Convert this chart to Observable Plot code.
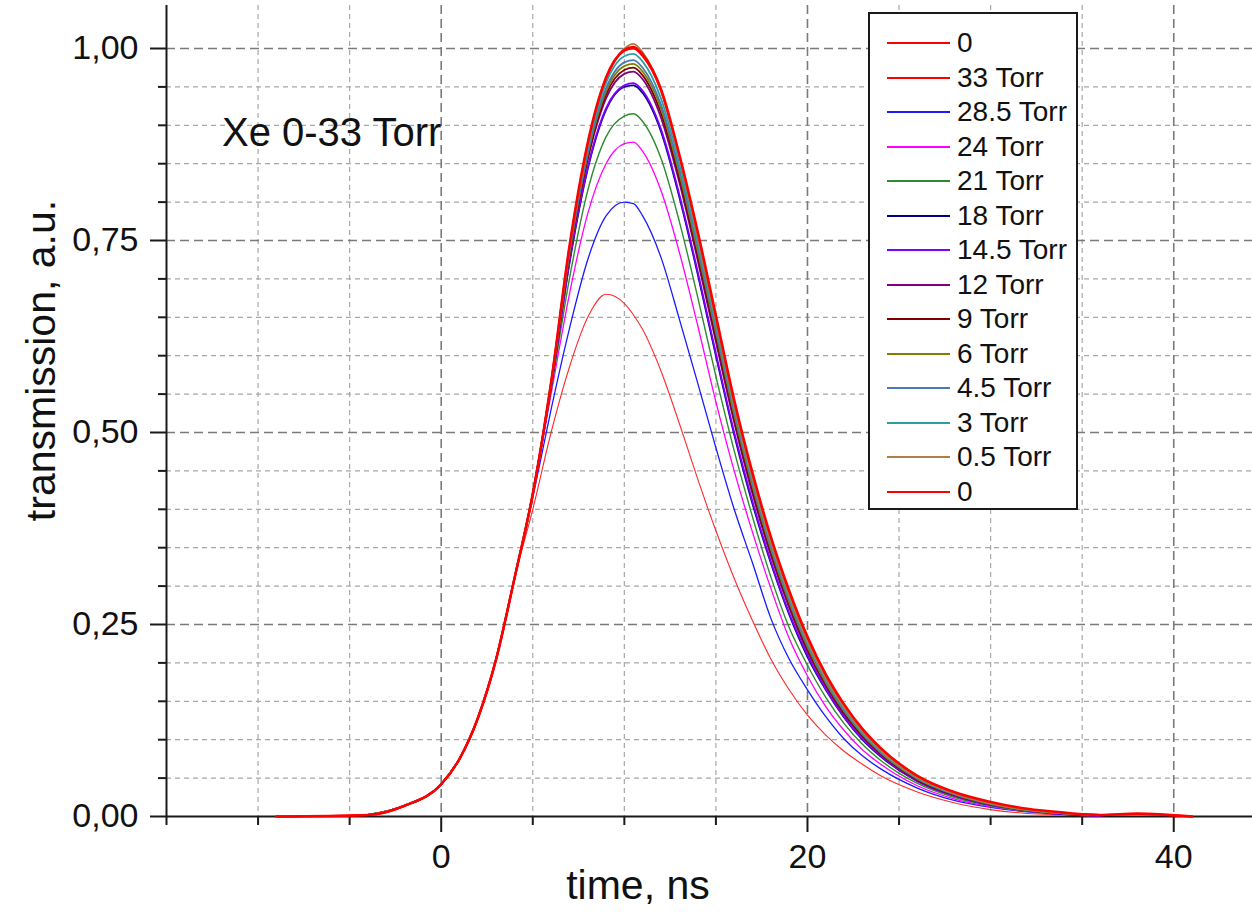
<!DOCTYPE html>
<html>
<head>
<meta charset="utf-8">
<script src="https://cdn.jsdelivr.net/npm/d3@7"></script>
<script src="https://cdn.jsdelivr.net/npm/@observablehq/plot@0.6"></script>
<style>
  html, body { margin: 0; padding: 0; background: #fff; }
  #wrap { position: relative; width: 1252px; height: 912px; font-family: "Liberation Sans", Arial, sans-serif; color: #111; }
  #wrap svg { position: absolute; left: 0; top: 0; }
  .ov { position: absolute; white-space: nowrap; }
  #legend { position: absolute; left: 868px; top: 12px; width: 210px; height: 498px; box-sizing: border-box; border: 2px solid #1a1a1a; background: #fff; }
  .lrow { position: absolute; left: 0; height: 30px; width: 206px; }
  .lsw { position: absolute; left: 17px; top: 14px; width: 63px; height: 0; border-top: 2.5px solid red; }
  .ltx { position: absolute; left: 87px; top: 0; font-size: 28px; line-height: 30px; color: #111; }
</style>
</head>
<body>
<div id="wrap"></div>
<script>
// ---- data ----
const times = [-9,-4,-2,0,1,2,3,4,5,6,7,8,9,10,10.5,11,12,13,14,15,16,17,18,19,20,21,22,23,24,26,28,30,32,34,36,38,41];

const labels = ["0","33 Torr","28.5 Torr","24 Torr","21 Torr","18 Torr","14.5 Torr","12 Torr","9 Torr","6 Torr","4.5 Torr","3 Torr","0.5 Torr","0"];

const s0a   = [0,0.002,0.014,0.042,0.075,0.128,0.205,0.31,0.42,0.565,0.74,0.875,0.96,0.997,1.0,0.99,0.945,0.86,0.76,0.65,0.54,0.445,0.362,0.292,0.232,0.183,0.145,0.113,0.088,0.052,0.031,0.018,0.009,0.004,0.002,0.003,0];
const s33   = [null,0.002,0.014,0.042,0.075,0.128,0.205,0.31,0.40,0.50,0.585,0.65,0.68,0.668,0.653,0.634,0.58,0.512,0.44,0.372,0.31,0.255,0.205,0.165,0.132,0.106,0.085,0.068,0.053,0.032,0.018,0.009,0.004,0.002,0,null,null];
const s285  = [null,0.002,0.014,0.042,0.075,0.128,0.205,0.31,0.415,0.53,0.635,0.725,0.782,0.80,0.798,0.782,0.728,0.648,0.565,0.48,0.40,0.33,0.258,0.205,0.165,0.13,0.101,0.079,0.062,0.037,0.021,0.012,0.006,0.003,0.001,null,null];
const s24   = [null,0.002,0.014,0.042,0.075,0.128,0.205,0.31,0.42,0.55,0.68,0.785,0.85,0.876,0.878,0.866,0.815,0.735,0.64,0.54,0.45,0.37,0.297,0.232,0.183,0.143,0.112,0.087,0.068,0.04,0.023,0.013,0.007,0.003,0.001,null,null];
const s21   = [null,0.002,0.014,0.042,0.075,0.128,0.205,0.31,0.42,0.555,0.70,0.815,0.885,0.912,0.915,0.905,0.857,0.775,0.677,0.573,0.476,0.39,0.312,0.246,0.197,0.155,0.121,0.094,0.073,0.043,0.025,0.014,0.007,0.003,0.001,null,null];
const s18   = [null,0.002,0.014,0.042,0.075,0.128,0.205,0.31,0.42,0.56,0.72,0.843,0.92,0.95,0.952,0.942,0.892,0.807,0.707,0.60,0.497,0.407,0.33,0.263,0.208,0.165,0.129,0.10,0.078,0.046,0.027,0.015,0.008,0.003,0.001,null,null];
const s145  = [null,0.002,0.014,0.042,0.075,0.128,0.205,0.31,0.42,0.56,0.722,0.845,0.922,0.952,0.955,0.945,0.895,0.81,0.71,0.603,0.50,0.41,0.332,0.265,0.21,0.166,0.13,0.101,0.079,0.046,0.027,0.015,0.008,0.003,0.001,null,null];
const s12   = [null,0.002,0.014,0.042,0.075,0.128,0.205,0.31,0.42,0.562,0.728,0.855,0.935,0.967,0.97,0.96,0.91,0.826,0.725,0.618,0.513,0.42,0.34,0.272,0.215,0.17,0.133,0.104,0.081,0.047,0.028,0.016,0.008,0.004,0.002,null,null];
const s9    = [null,0.002,0.014,0.042,0.075,0.128,0.205,0.31,0.42,0.563,0.73,0.858,0.94,0.972,0.975,0.965,0.916,0.832,0.731,0.624,0.518,0.425,0.344,0.276,0.218,0.172,0.135,0.105,0.082,0.048,0.028,0.016,0.008,0.004,0.002,null,null];
const s6    = [null,0.002,0.014,0.042,0.075,0.128,0.205,0.31,0.42,0.563,0.733,0.862,0.944,0.977,0.98,0.97,0.922,0.838,0.737,0.63,0.523,0.43,0.348,0.279,0.221,0.174,0.137,0.107,0.083,0.049,0.029,0.016,0.008,0.004,0.002,null,null];
const s45   = [null,0.002,0.014,0.042,0.075,0.128,0.205,0.31,0.42,0.564,0.735,0.865,0.948,0.982,0.985,0.975,0.927,0.843,0.742,0.634,0.527,0.433,0.351,0.282,0.223,0.176,0.138,0.108,0.084,0.05,0.029,0.017,0.009,0.004,0.002,null,null];
const s3    = [null,0.002,0.014,0.042,0.075,0.128,0.205,0.31,0.42,0.565,0.738,0.87,0.955,0.99,0.993,0.983,0.935,0.85,0.748,0.64,0.532,0.437,0.355,0.285,0.226,0.178,0.14,0.109,0.085,0.05,0.03,0.017,0.009,0.004,0.002,null,null];
const s05   = [null,0.002,0.014,0.042,0.075,0.128,0.205,0.31,0.42,0.565,0.74,0.875,0.962,1.0,1.006,0.995,0.945,0.86,0.755,0.645,0.535,0.44,0.357,0.288,0.228,0.18,0.142,0.111,0.086,0.051,0.03,0.017,0.009,0.004,0.002,null,null];
const s0b   = [0,0.002,0.014,0.042,0.075,0.128,0.205,0.31,0.42,0.565,0.742,0.877,0.962,0.998,1.002,0.992,0.947,0.862,0.762,0.652,0.542,0.447,0.364,0.294,0.234,0.185,0.146,0.114,0.089,0.053,0.032,0.019,0.01,0.005,0.002,0.004,0];

const seriesValues = [s0a, s33, s285, s24, s21, s18, s145, s12, s9, s6, s45, s3, s05, s0b];

const xLabelTicks = [0, 20, 40];
const xTicks = [-15,-10,-5,0,5,10,15,20,25,30,35,40];
const yLabelTicks = [0, 0.25, 0.5, 0.75, 1.0];
const yTicks = [0.05,0.1,0.15,0.2,0.3,0.35,0.4,0.45,0.55,0.6,0.65,0.7,0.8,0.85,0.9,0.95,1.0];

// ---- styles ----
const colors = ["#ff0000","#ff2a2a","#1a1aff","#ff00ff","#2e8b2e","#000080","#8000ff","#800080","#800000","#808000","#4a78b8","#2ca0a0","#b07d45","#ff0000"];
const widths = [2, 1.1, 1.3, 1.3, 1.4, 1.8, 1.8, 1.8, 1.8, 1.8, 1.8, 1.8, 1.8, 2.6];

const table = labels.flatMap((lab, i) => times.map((t, j) => ({t, v: seriesValues[i][j], series: i, label: lab})));

const fmt = d => d.toFixed(2).replace(".", ",");
const xMinor = xTicks.filter(d => !xLabelTicks.includes(d) && d !== -15);
const yMinor = yTicks.filter(d => !yLabelTicks.includes(d));

const marks = [
  Plot.gridX(xMinor, {stroke: "#a8a8a8", strokeOpacity: 1, strokeWidth: 1.2, strokeDasharray: "5,4"}),
  Plot.gridY(yMinor, {stroke: "#a8a8a8", strokeOpacity: 1, strokeWidth: 1.2, strokeDasharray: "5,4"}),
  Plot.gridX(xLabelTicks, {stroke: "#7a7a7a", strokeOpacity: 1, strokeWidth: 1.6, strokeDasharray: "9,5"}),
  Plot.gridY(yLabelTicks.filter(d => d > 0), {stroke: "#7a7a7a", strokeOpacity: 1, strokeWidth: 1.6, strokeDasharray: "9,5"}),
  Plot.ruleY([0], {stroke: "#1a1a1a", strokeWidth: 2}),
  Plot.ruleX([-15], {stroke: "#1a1a1a", strokeWidth: 2}),
  Plot.axisX(xTicks.filter(d => !xLabelTicks.includes(d)), {label: null, tickSize: 9, tickFormat: () => "", stroke: "#1a1a1a", strokeWidth: 2}),
  Plot.axisX(xLabelTicks, {label: null, tickSize: 16, tickPadding: 11, tickFormat: d => String(d), stroke: "#1a1a1a", strokeWidth: 2, fontSize: 34, fill: "#111"}),
  Plot.axisY(yMinor, {label: null, tickSize: 8, tickFormat: () => "", stroke: "#1a1a1a", strokeWidth: 2}),
  Plot.axisY(yLabelTicks, {label: null, tickSize: 16, tickPadding: 12, tickFormat: fmt, stroke: "#1a1a1a", strokeWidth: 2, fontSize: 34, fill: "#111"})
];

labels.forEach((lab, i) => {
  marks.push(Plot.line(table.filter(d => d.series === i && d.v != null), {
    x: "t", y: "v", stroke: colors[i], strokeWidth: widths[i], curve: "monotone-x"
  }));
});

const chart = Plot.plot({
  width: 1252,
  height: 912,
  marginLeft: 166,
  marginRight: 0,
  marginTop: 5,
  marginBottom: 96,
  x: {domain: [-15, 44.3], axis: null, label: null},
  y: {domain: [0, 1.056], axis: null, label: null},
  style: {fontFamily: "'Liberation Sans', Arial, sans-serif", background: "#fff", overflow: "visible"},
  marks
});

const wrap = document.getElementById("wrap");
wrap.appendChild(chart);

// annotation text
const note = document.createElement("div");
note.className = "ov";
note.textContent = "Xe 0-33 Torr";
note.style.cssText = "left:222px; top:112px; font-size:40px; line-height:40px;";
wrap.appendChild(note);

// axis titles
const xt = document.createElement("div");
xt.className = "ov";
xt.textContent = "time, ns";
xt.style.cssText = "left:438px; width:400px; text-align:center; top:865px; font-size:41px; line-height:41px;";
wrap.appendChild(xt);

const yt = document.createElement("div");
yt.className = "ov";
yt.textContent = "transmission, a.u.";
yt.style.cssText = "left:-159px; width:400px; text-align:center; top:339.5px; font-size:41px; line-height:41px; transform: rotate(-90deg); transform-origin: 200px 20.5px;";
wrap.appendChild(yt);

// legend
const leg = document.createElement("div");
leg.id = "legend";
labels.forEach((lab, i) => {
  const row = document.createElement("div");
  row.className = "lrow";
  row.style.top = (31 + 34.5 * i - 2 - 15) + "px";
  const sw = document.createElement("div");
  sw.className = "lsw";
  sw.style.borderTopColor = colors[i] === "#ff2a2a" ? "#ff0000" : colors[i];
  const tx = document.createElement("div");
  tx.className = "ltx";
  tx.textContent = lab;
  row.appendChild(sw);
  row.appendChild(tx);
  leg.appendChild(row);
});
wrap.appendChild(leg);
</script>
</body>
</html>
